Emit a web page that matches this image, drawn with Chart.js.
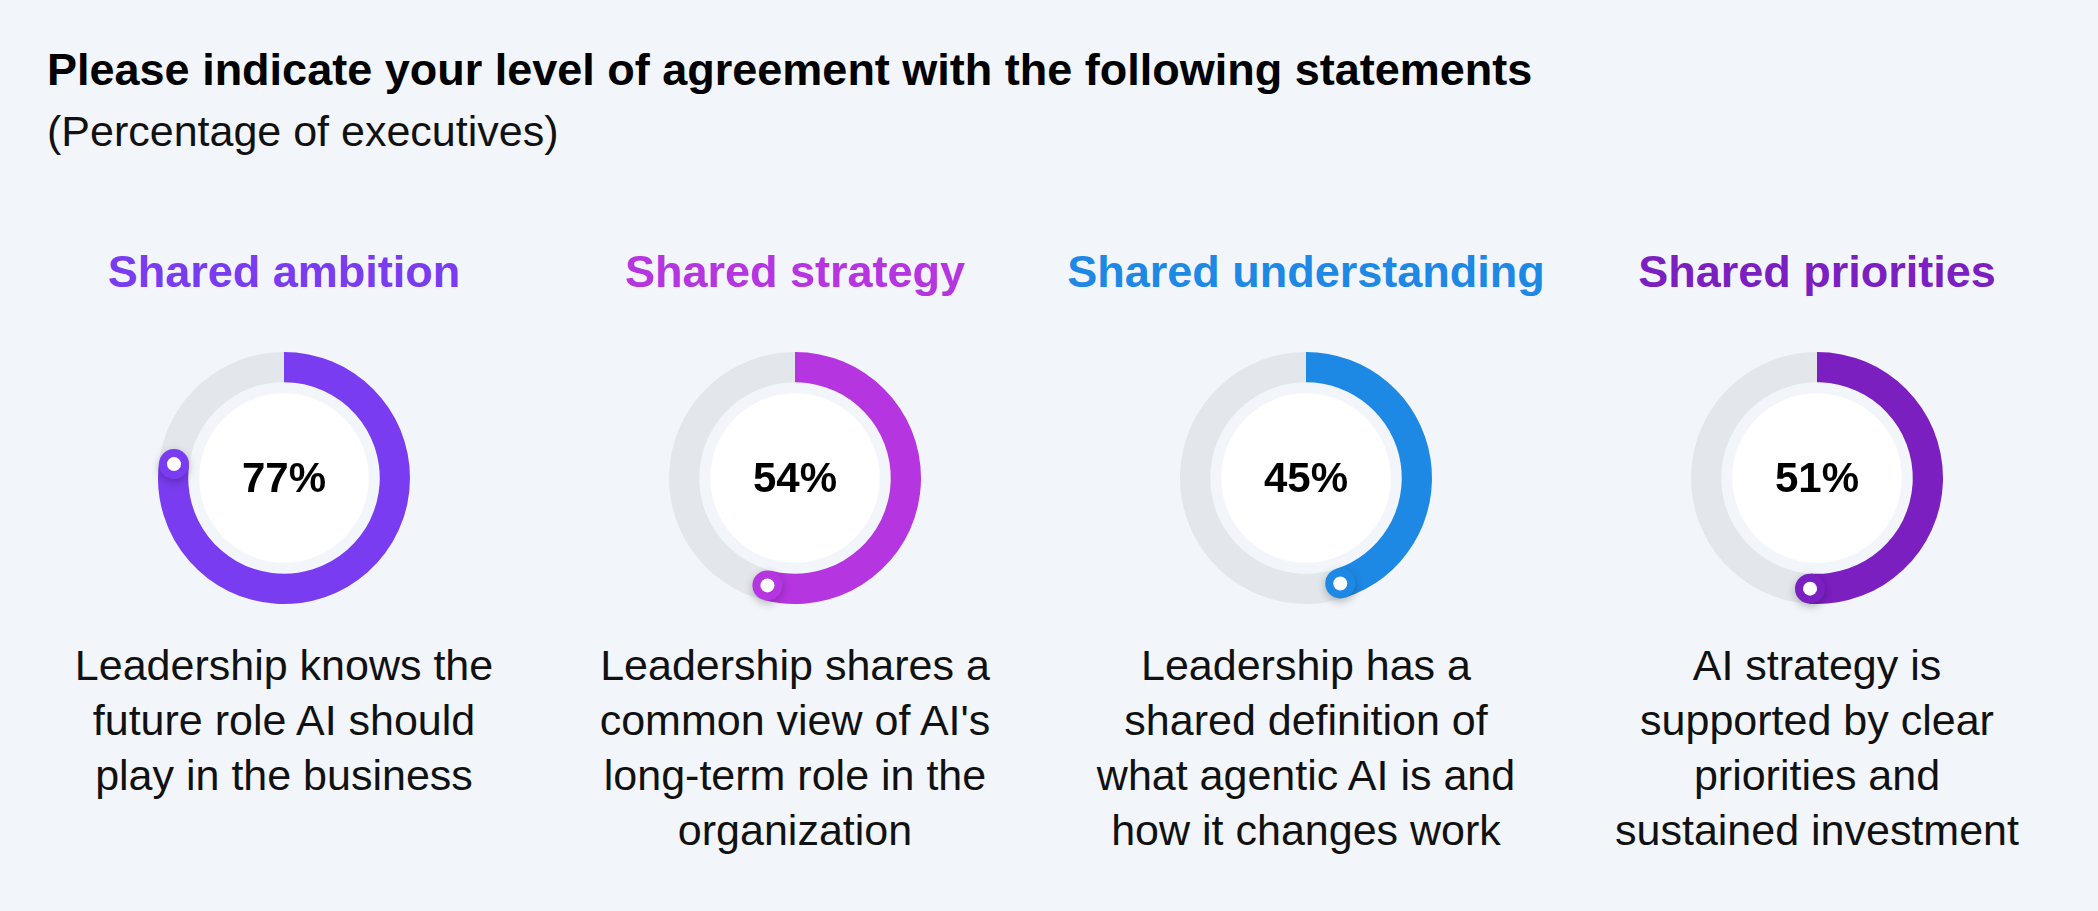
<!DOCTYPE html>
<html><head><meta charset="utf-8">
<script src="https://cdn.jsdelivr.net/npm/chart.js@4"></script>
<style>
body{margin:0;width:2098px;height:911px;background:#f2f5f9;font-family:"Liberation Sans",Arial,sans-serif;position:relative;overflow:hidden}
#title{position:absolute;left:47px;top:44px;font-size:45px;font-weight:bold;color:#000}
#sub{position:absolute;left:47px;top:107px;font-size:43px;color:#111}
.col{position:absolute;top:246px;width:560px;margin-left:-280px;text-align:center}
.col h2{margin:0;font-size:45px;font-weight:bold;height:62px}
.wrap{position:relative;width:300px;height:300px;margin:20px auto 0}
.pct{position:absolute;left:0;top:0;width:300px;line-height:300px;font-size:42px;font-weight:bold;color:#000}
.desc{font-size:43px;line-height:55px;color:#111;margin-top:10px}
</style></head><body>
<div id="title">Please indicate your level of agreement with the following statements</div>
<div id="sub">(Percentage of executives)</div>
<script>
const headings = ['Shared ambition', 'Shared strategy', 'Shared understanding', 'Shared priorities'];
const values = [77, 54, 45, 51];
const colors = ['#7a3cf0', '#b535e0', '#1e88e5', '#7b1fc0'];
const descriptions = [
  ['Leadership knows the', 'future role AI should', 'play in the business'],
  ['Leadership shares a', "common view of AI's", 'long-term role in the', 'organization'],
  ['Leadership has a', 'shared definition of', 'what agentic AI is and', 'how it changes work'],
  ['AI strategy is', 'supported by clear', 'priorities and', 'sustained investment']
];
const centersX = [284, 795, 1306, 1817];

const innerDisk = {
  id: 'innerDisk',
  afterDatasetsDraw(chart) {
    const arc = chart.getDatasetMeta(0).data[0];
    const ctx = chart.ctx;
    const r = arc.innerRadius;
    ctx.save();
    ctx.fillStyle = '#ffffff';
    ctx.beginPath(); ctx.arc(arc.x, arc.y, r - 11, 0, Math.PI * 2); ctx.fill();
    const mid = (arc.innerRadius + arc.outerRadius) / 2;
    const px = arc.x + Math.cos(arc.endAngle) * mid;
    const py = arc.y + Math.sin(arc.endAngle) * mid;
    ctx.shadowColor = 'rgba(0,0,0,0.25)'; ctx.shadowBlur = 8; ctx.shadowOffsetY = 3;
    ctx.fillStyle = arc.options.backgroundColor;
    ctx.beginPath(); ctx.arc(px, py, 15, 0, Math.PI * 2); ctx.fill();
    ctx.shadowColor = 'transparent';
    ctx.fillStyle = '#ffffff';
    ctx.beginPath(); ctx.arc(px, py, 7, 0, Math.PI * 2); ctx.fill();
    ctx.restore();
  }
};

headings.forEach((h, i) => {
  const col = document.createElement('div');
  col.className = 'col';
  col.style.left = centersX[i] + 'px';
  col.innerHTML = `<h2 style="color:${colors[i]}">${h}</h2>
    <div class="wrap"><canvas id="c${i}" width="300" height="300"></canvas><div class="pct">${values[i]}%</div></div>
    <div class="desc">${descriptions[i].join('<br>')}</div>`;
  document.body.appendChild(col);
  new Chart(document.getElementById('c' + i), {
    type: 'doughnut',
    data: {
      labels: ['Agree', 'Other'],
      datasets: [{
        data: [values[i], 100 - values[i]],
        backgroundColor: [colors[i], '#e3e7ec'],
        borderWidth: 0
      }]
    },
    options: {
      responsive: false,
      animation: false,
      cutout: '76%',
      layout: { padding: 24 },
      plugins: { legend: { display: false }, tooltip: { enabled: false } }
    },
    plugins: [innerDisk]
  });
});
</script>
</body></html>
